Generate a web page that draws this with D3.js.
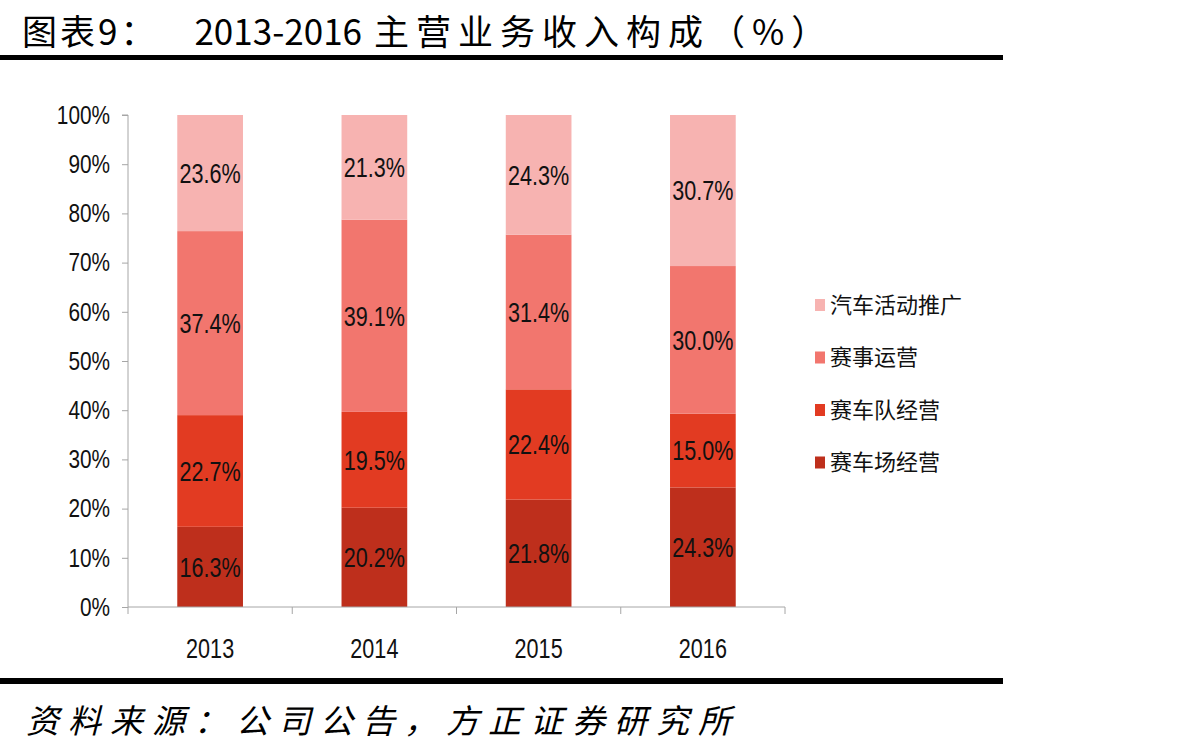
<!DOCTYPE html>
<html lang="zh">
<head>
<meta charset="UTF-8">
<script src="https://d3js.org/d3.v7.min.js"></script>
<style>
  body { margin: 0; background: #fff; }
  svg { display: block; }
</style>
</head>
<body>
<div id="chart"></div>
<script>
// data (bottom to top)
const years = ["2013", "2014", "2015", "2016"];
const seriesNames = ["赛车场经营", "赛车队经营", "赛事运营", "汽车活动推广"];
const trackOps = [16.3, 20.2, 21.8, 24.3];
const teamOps = [22.7, 19.5, 22.4, 15.0];
const eventOps = [37.4, 39.1, 31.4, 30.0];
const promo = [23.6, 21.3, 24.3, 30.7];
const yTicks = [0, 0.1, 0.2, 0.3, 0.4, 0.5, 0.6, 0.7, 0.8, 0.9, 1];
const colors = ["#BE2F1C", "#E23B22", "#F2766E", "#F7B3B1"];

const W = 1195, H = 751;
const plot = { left: 128, right: 785, top: 115, bottom: 607 };
const squeeze = 0.8; // fake a narrow font

const rows = years.map((y, i) => ({
  year: y,
  [seriesNames[0]]: trackOps[i],
  [seriesNames[1]]: teamOps[i],
  [seriesNames[2]]: eventOps[i],
  [seriesNames[3]]: promo[i]
}));

const stacked = d3.stack().keys(seriesNames).offset(d3.stackOffsetExpand)(rows);

const svg = d3.select("#chart").append("svg")
  .attr("width", W).attr("height", H);

// title + rules
const title = svg.append("text")
  .attr("x", 22).attr("y", 45)
  .attr("font-family", "'Noto Sans CJK SC', sans-serif")
  .attr("font-size", 35)
  .attr("fill", "#000")
  .attr("xml:space", "preserve");
title.append("tspan").attr("letter-spacing", 3).text("图表9：");
title.append("tspan").attr("dx", 36).text("2013-2016");
title.append("tspan").attr("dx", 12).attr("letter-spacing", 7).text("主营业务收入构成（%）");

svg.append("rect").attr("x", 0).attr("y", 55).attr("width", 1003).attr("height", 5).attr("fill", "#000");
svg.append("rect").attr("x", 0).attr("y", 678).attr("width", 1003).attr("height", 6).attr("fill", "#000");

svg.append("text")
  .attr("x", 26).attr("y", 733)
  .attr("font-family", "'Noto Sans CJK SC', sans-serif")
  .attr("font-style", "italic")
  .attr("font-size", 33)
  .attr("letter-spacing", 9)
  .text("资料来源：公司公告，方正证券研究所");

const x = d3.scaleBand().domain(years).range([plot.left, plot.right]).paddingInner(0.6).paddingOuter(0.3);
const xb = d3.scaleBand().domain(years).range([plot.left, plot.right]);
const y = d3.scaleLinear().domain([0, 1]).range([plot.bottom, plot.top]);

const font = "'Liberation Sans', Arial, sans-serif";

// bars
const layer = svg.append("g").selectAll("g").data(stacked).join("g")
  .attr("fill", (d, i) => colors[i]);

layer.selectAll("rect").data(d => d).join("rect")
  .attr("x", d => x(d.data.year))
  .attr("width", x.bandwidth())
  .attr("y", d => y(d[1]))
  .attr("height", d => y(d[0]) - y(d[1]));

layer.selectAll("text").data(d => d.map(p => ({ p, key: d.key }))).join("text")
  .attr("transform", d => `translate(${x(d.p.data.year) + x.bandwidth() / 2},${(y(d.p[0]) + y(d.p[1])) / 2}) scale(${squeeze},1)`)
  .attr("dy", "0.36em")
  .attr("text-anchor", "middle")
  .attr("font-family", font)
  .attr("font-size", 27)
  .attr("fill", "#111")
  .text(d => d.p.data[d.key].toFixed(1) + "%");

// y axis
const yAxis = svg.append("g")
  .attr("transform", `translate(${plot.left},0)`)
  .call(d3.axisLeft(y).tickValues(yTicks).tickFormat(d3.format(".0%")).tickSize(6).tickPadding(0));
yAxis.select(".domain").attr("stroke", "#A6A6A6").attr("d", `M-6,${plot.top}H0V${plot.bottom}`);
yAxis.selectAll(".tick line").attr("stroke", "#A6A6A6");
yAxis.selectAll(".tick text")
  .attr("x", null)
  .attr("transform", `translate(-18,0) scale(${squeeze},1)`)
  .attr("font-family", font).attr("font-size", 26).attr("fill", "#111");

// x axis
const xAxis = svg.append("g")
  .attr("transform", `translate(0,${plot.bottom})`)
  .call(d3.axisBottom(x).tickSize(0).tickPadding(0));
xAxis.select(".domain").attr("stroke", "#A6A6A6").attr("d", `M${plot.left},0H${plot.right}`);
xAxis.selectAll(".tick text")
  .attr("y", null).attr("dy", null)
  .attr("transform", `translate(0,51) scale(${squeeze},1)`)
  .attr("font-family", font).attr("font-size", 27).attr("fill", "#111");
xAxis.selectAll(".sep").data(years.concat(["end"])).join("line")
  .attr("class", "sep")
  .attr("x1", (d, i) => i < years.length ? xb(d) : plot.right)
  .attr("x2", (d, i) => i < years.length ? xb(d) : plot.right)
  .attr("y1", 0).attr("y2", 7)
  .attr("stroke", "#A6A6A6");

// legend (top entry is last series)
const legendItems = seriesNames.slice().reverse();
const lg = svg.append("g").attr("transform", "translate(815,305)");
const li = lg.selectAll("g").data(legendItems).join("g")
  .attr("transform", (d, i) => `translate(0,${i * 52.5})`);
li.append("rect").attr("x", 0).attr("y", -6).attr("width", 10).attr("height", 12)
  .attr("fill", d => colors[seriesNames.indexOf(d)]);
li.append("text").attr("x", 15).attr("y", 0).attr("dy", "0.36em")
  .attr("font-family", "'Noto Sans CJK SC', sans-serif")
  .attr("font-size", 22)
  .attr("fill", "#111")
  .text(d => d);
</script>
</body>
</html>
